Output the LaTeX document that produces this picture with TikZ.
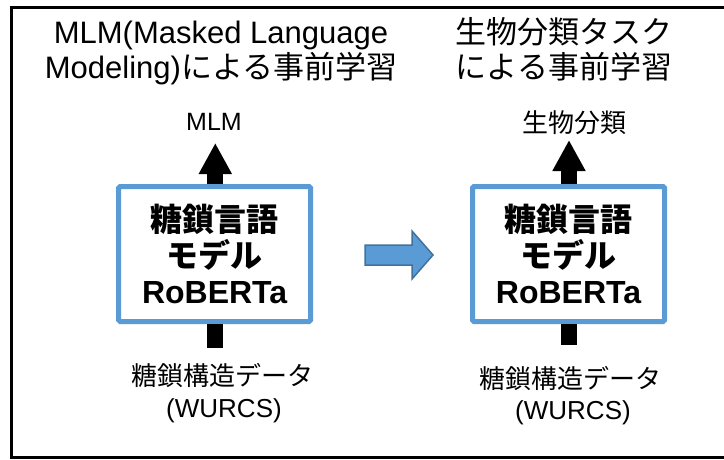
\documentclass[tikz,border=0pt]{standalone}
\usepackage{fontspec}
\setmainfont{Liberation Sans}
\newfontfamily\jp{Noto Sans CJK JP}
\usetikzlibrary{arrows.meta}
\definecolor{boxblue}{HTML}{5B9BD5}
\definecolor{arrowedge}{HTML}{41719C}
\tikzset{
  titletext/.style={anchor=base,inner sep=0pt,font=\fontsize{31}{35}\selectfont},
  lbltext/.style={anchor=base,inner sep=0pt,font=\fontsize{25}{30}\selectfont},
  datatext/.style={anchor=base,inner sep=0pt,font=\fontsize{26}{32}\selectfont},
  modelbox/.style={draw=boxblue,line width=5pt,rounded corners=1.5pt,fill=white,
    minimum width=192pt,minimum height=135pt,inner sep=0pt,align=center,
    font=\bfseries\fontsize{32}{36}\selectfont},
  upflow/.style={line width=16pt,-{Triangle[width=31pt,length=31pt]}},
  inflow/.style={line width=16pt},
}
\begin{document}
\begin{tikzpicture}[x=1pt,y=-1pt]
\useasboundingbox (0,0) rectangle (724,459);
\draw[line width=3pt,line join=miter] (726,7) -- (11,7) -- (11,457) -- (726,457);

% titles
\node[titletext] (tl1) at (221,43) {MLM(Masked Language};
\node[titletext] (tl2) at (221,78) {Modeling){\jp による事前学習}};
\node[titletext] (tr1) at (564,43) {\jp 生物分類タスク};
\node[titletext] (tr2) at (564,78) {\jp による事前学習};

% output labels
\node[lbltext] (mlm) at (214,130) {MLM};
\node[lbltext,font=\jp\fontsize{26}{30}\selectfont] (cls) at (574.5,132.5) {生物分類};

% model boxes
\node[modelbox] (lbox) at (214.6,254) {{\jp 糖鎖言語}\\{\jp モデル}\\RoBERTa};
\node[modelbox] (rbox) at (568.5,254) {{\jp 糖鎖言語}\\{\jp モデル}\\RoBERTa};

% input labels
\node[datatext] (dl1) at (222.5,385) {\jp 糖鎖構造データ};
\node[datatext] (dl2) at (224,417) {(WURCS)};
\node[datatext] (dr1) at (570,388) {\jp 糖鎖構造データ};
\node[datatext] (dr2) at (573,419) {(WURCS)};

% connector end points
\coordinate (tipL) at (215.3,143);
\coordinate (tipR) at (569,140);
\coordinate (inL) at (215.3,348);
\coordinate (inR) at (569,345);

\draw[upflow] (lbox.north -| tipL) -- (tipL);
\draw[upflow] (rbox.north -| tipR) -- (tipR);
\draw[inflow] (inL) -- (lbox.south -| inL);
\draw[inflow] (inR) -- (rbox.south -| inR);

% big blue arrow between stages
\draw[fill=boxblue,draw=arrowedge,line width=1.5pt,line join=miter]
  (365,245) -- (412,245) -- (412,231) -- (433,255) -- (412,279) -- (412,265) -- (365,265) -- cycle;
\end{tikzpicture}
\end{document}
